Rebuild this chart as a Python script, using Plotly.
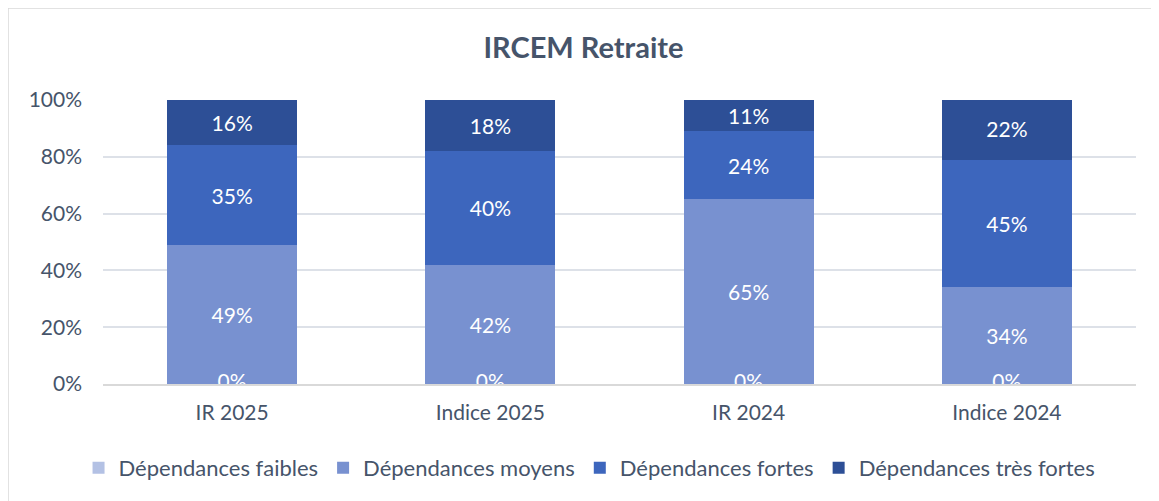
import plotly.graph_objects as go

categories = ["IR 2025", "Indice 2025", "IR 2024", "Indice 2024"]
faibles = [0, 0, 0, 0]
moyens = [49, 42, 65, 34]
fortes = [35, 40, 24, 45]
tres_fortes = [16, 18, 11, 22]
tick_vals = [0, 20, 40, 60, 80, 100]
tick_text = ["0%", "20%", "40%", "60%", "80%", "100%"]

FONT = "Lato"
TXT = "#46546A"

series = [
    ("Dépendances faibles", faibles, "#B3C1E4"),
    ("Dépendances moyens", moyens, "#7891D0"),
    ("Dépendances fortes", fortes, "#3D66BD"),
    ("Dépendances très fortes", tres_fortes, "#2D4F96"),
]

W, H = 1151, 493  # page body has an 8px margin

fig = go.Figure()
for name, vals, col in series:
    fig.add_trace(go.Bar(
        x=categories, y=vals, name=name,
        marker=dict(color=col, line=dict(width=0)),
        text=[f"{v}%" for v in vals], texttemplate="%{text}",
        textposition="inside", insidetextanchor="middle",
        textfont=dict(color="white", size=21, family=FONT),
        constraintext="none",
        showlegend=True,
    ))

# zero-value labels sitting on the baseline (half clipped like the original)
fig.add_trace(go.Scatter(
    x=categories, y=faibles, mode="text",
    text=[f"{v}%" for v in faibles],
    textposition="middle center",
    textfont=dict(color="white", size=21, family=FONT),
    cliponaxis=True, showlegend=False, hoverinfo="skip",
))

fig.update_layout(
    barmode="stack",
    bargap=0.497,
    width=W, height=H,
    paper_bgcolor="white", plot_bgcolor="white",
    margin=dict(l=95, r=23, t=92, b=117, autoexpand=False),
    font=dict(family=FONT, color=TXT, size=20),
    title=dict(text="<b>IRCEM Retraite</b>", x=0.5, xanchor="center",
               y=1 - 40 / H, yanchor="middle", yref="container",
               font=dict(size=29, color=TXT, family=FONT)),
    legend=dict(orientation="h", x=0.471, xanchor="center", y=-0.296, yanchor="middle",
                font=dict(size=22, color=TXT, family=FONT), traceorder="normal",
                itemwidth=30),
    xaxis=dict(showgrid=False, showline=True, linecolor="#D9D9D9", linewidth=1.5,
               tickfont=dict(size=21, color=TXT), ticks="", ticklabelstandoff=9),
    yaxis=dict(range=[0, 100], tickvals=tick_vals, ticktext=tick_text,
               showgrid=True, gridcolor="#DDE1E8", gridwidth=1.5,
               zeroline=False, tickfont=dict(size=21, color=TXT), ticks="",
               ticklabelstandoff=20),
    shapes=[dict(type="rect", xref="paper", yref="paper",
                 x0=-95 / 1033, x1=(W + 5 - 95) / 1033,
                 y0=(376 - H - 5) / 284, y1=376 / 284,
                 line=dict(color="#D9D9D9", width=1.5), fillcolor="rgba(0,0,0,0)",
                 layer="below")],
)

fig.write_html("out.html")
